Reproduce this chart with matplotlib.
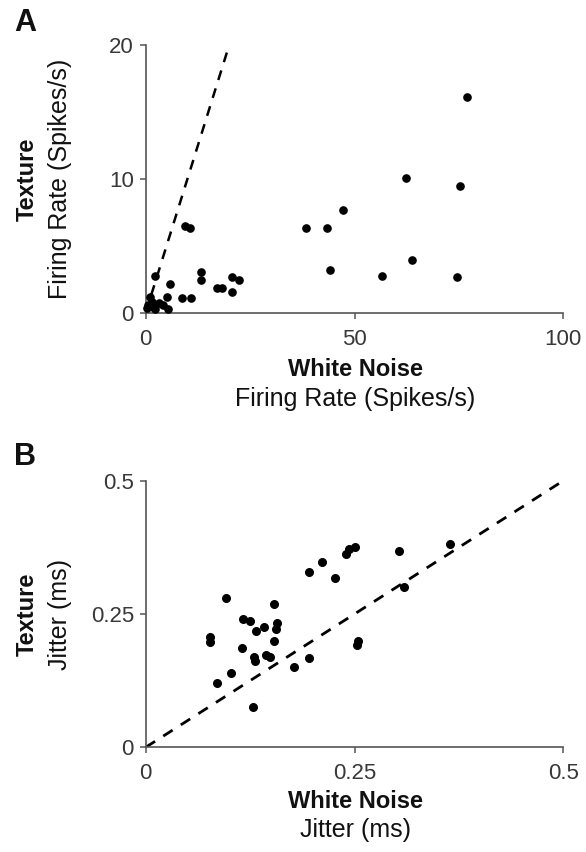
import matplotlib
matplotlib.use("Agg")
import matplotlib.pyplot as plt

plt.rcParams['font.family'] = ['Liberation Sans', 'DejaVu Sans']

# panel A: firing rate (spikes/s)
rate_wn = [76.9, 62.3, 75.3, 47.3, 38.5, 43.3, 63.8, 44.1, 56.6, 74.5,
           9.4, 10.6, 13.2, 13.2, 17.1, 18.3, 20.7, 22.4, 20.6, 8.7, 10.8,
           5.8, 2.2, 1.0, 0.6, 1.8, 5.0, 4.2, 3.3, 5.4, 2.2, 1.4, 0.2]
rate_tex = [16.1, 10.07, 9.5, 7.7, 6.3, 6.35, 3.9, 3.2, 2.77, 2.65,
            6.5, 6.35, 3.07, 2.42, 1.87, 1.82, 2.67, 2.42, 1.52, 1.07, 1.07,
            2.15, 2.74, 1.2, 0.58, 0.45, 1.2, 0.58, 0.7, 0.25, 0.25, 0.8, 0.35]

# panel B: jitter (ms)
jit_wn = [0.096, 0.196, 0.211, 0.227, 0.240, 0.243, 0.251, 0.303, 0.364, 0.309,
          0.154, 0.116, 0.125, 0.142, 0.132, 0.157, 0.156, 0.077, 0.077, 0.154,
          0.254, 0.253, 0.115, 0.130, 0.131, 0.144, 0.149, 0.196, 0.178, 0.102,
          0.085, 0.128]
jit_tex = [0.280, 0.329, 0.348, 0.317, 0.362, 0.371, 0.376, 0.368, 0.381, 0.300,
           0.269, 0.240, 0.237, 0.226, 0.218, 0.233, 0.221, 0.207, 0.198, 0.200,
           0.200, 0.191, 0.186, 0.170, 0.162, 0.173, 0.170, 0.167, 0.150, 0.139,
           0.120, 0.076]

W, H = 586, 852
fig = plt.figure(figsize=(W / 100, H / 100), dpi=100)


def box(x0, y0, x1, y1):
    # pixel box (top-left origin) -> figure fraction
    return [x0 / W, 1 - y1 / H, (x1 - x0) / W, (y1 - y0) / H]


def style(ax):
    for s in ['top', 'right']:
        ax.spines[s].set_visible(False)
    for s in ['left', 'bottom']:
        ax.spines[s].set_color('#555555')
        ax.spines[s].set_linewidth(1.2)
    ax.tick_params(colors='#555555', labelcolor='#383838', labelsize=16,
                   length=4.5, width=1.1)
    ax.tick_params(axis='x', pad=7)
    ax.tick_params(axis='y', pad=4)


axA = fig.add_axes(box(145.7, 45, 563.3, 312.7))
axA.plot([0, 20], [0, 20], color='black', lw=1.8, dashes=(4, 3.5))
axA.scatter(rate_wn, rate_tex, s=27, color='black', zorder=3, clip_on=False)
axA.set_xlim(0, 100)
axA.set_ylim(0, 20)
axA.set_xticks([0, 50, 100])
axA.set_yticks([0, 10, 20])
style(axA)

axB = fig.add_axes(box(145.7, 480.7, 563.3, 747.3))
axB.plot([0, 0.5], [0, 0.5], color='black', lw=2.0, dashes=(4, 3.5))
axB.scatter(jit_wn, jit_tex, s=30, color='black', zorder=3, clip_on=False)
axB.set_xlim(0, 0.5)
axB.set_ylim(0, 0.5)
axB.set_xticks([0, 0.25, 0.5])
axB.set_xticklabels(['0', '0.25', '0.5'])
axB.set_yticks([0, 0.25, 0.5])
axB.set_yticklabels(['0', '0.25', '0.5'])
style(axB)


def ftext(x, y, s, **kw):
    fig.text(x / W, 1 - y / H, s, ha='center', va='center', color='#111111', **kw)


ftext(25, 23, 'A', fontsize=22, fontweight='bold')
ftext(25, 457, 'B', fontsize=22, fontweight='bold')

ftext(355, 370, 'White Noise', fontsize=17, fontweight='bold')
ftext(355, 399, 'Firing Rate (Spikes/s)', fontsize=18)
ftext(27, 179, 'Texture', fontsize=17, fontweight='bold', rotation=90)
ftext(60, 179, 'Firing Rate (Spikes/s)', fontsize=18, rotation=90)

ftext(355, 801, 'White Noise', fontsize=17, fontweight='bold')
ftext(355, 830, 'Jitter (ms)', fontsize=18)
ftext(27, 614, 'Texture', fontsize=17, fontweight='bold', rotation=90)
ftext(60, 614, 'Jitter (ms)', fontsize=18, rotation=90)

fig.savefig('out.png', dpi=100)
